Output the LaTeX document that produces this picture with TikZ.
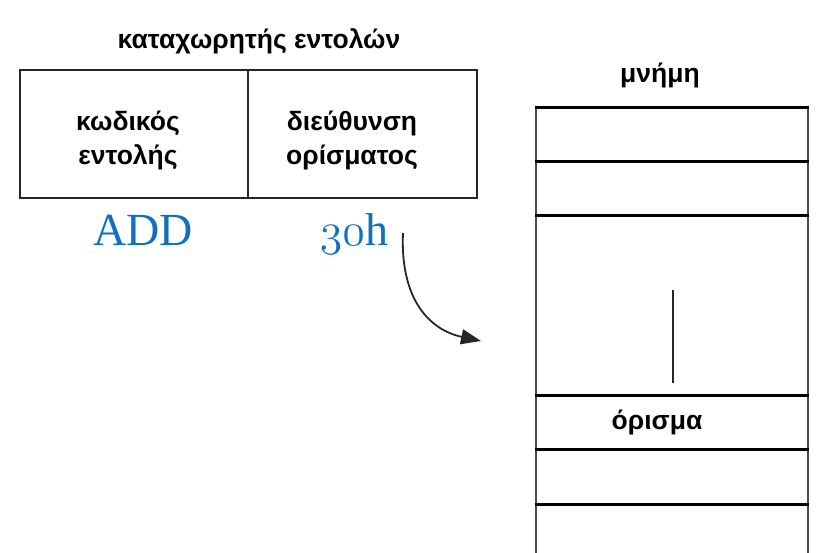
\RequirePackage{fix-cm}
\documentclass[tikz,border=0pt]{standalone}
\usepackage{fontspec}
\setmainfont{Liberation Sans}
\newfontfamily\blueserif{Liberation Serif}
\usetikzlibrary{arrows.meta}
\definecolor{myblue}{HTML}{1070C0}
\newcommand{\osdigits}[1]{{\fontencoding{OML}\fontfamily{cmm}\fontseries{m}\fontshape{it}\selectfont #1}}
\tikzset{
  lbl/.style={font=\fontsize{26.5}{34}\selectfont\bfseries, align=center, inner sep=0pt, anchor=base},
  blue/.style={font=\fontsize{46}{50}\selectfont\blueserif, text=myblue, inner sep=0pt, anchor=base},
  regline/.style={line width=2.2pt, black!85},
  memh/.style={line width=3pt, black},
  memv/.style={line width=2pt, black!70}
}
\begin{document}
\begin{tikzpicture}[x=1pt,y=-1pt]
\useasboundingbox (0,0) rectangle (821,553);
% register
\node[lbl] (title) at (259,49) {καταχωρητής εντολών};
\draw[regline] (20,70) rectangle (477,198);
\draw[regline] (248,70) -- (248,198);
\node[lbl] (code) at (128,165) {κωδικός\\εντολής};
\node[lbl] (addr) at (352,165) {διεύθυνση\\ορίσματος};
\node[blue] (add) at (143,245) {ADD};
\node[blue] (hex) at (354,245) {\osdigits{30}h};
% memory
\node[lbl] (mem) at (660,83) {μνήμη};
\draw[memv] (536,108) -- (536,553);
\draw[memv] (808,108) -- (808,553);
\foreach \yy in {108,162,216,395,449,504}
  \draw[memh] (535,\yy) -- (809,\yy);
\draw[line width=1.6pt, black!85] (673,290) -- (673,383);
\node[lbl] (arg) at (657,429) {όρισμα};
% arrow
\coordinate (s) at (403,233);
\coordinate (e) at (481,341);
\draw[line width=1.8pt, black!85, -{Triangle[length=20pt,width=15pt]}] (s) .. controls (400,300) and (430,330) .. (e);
\end{tikzpicture}
\end{document}
